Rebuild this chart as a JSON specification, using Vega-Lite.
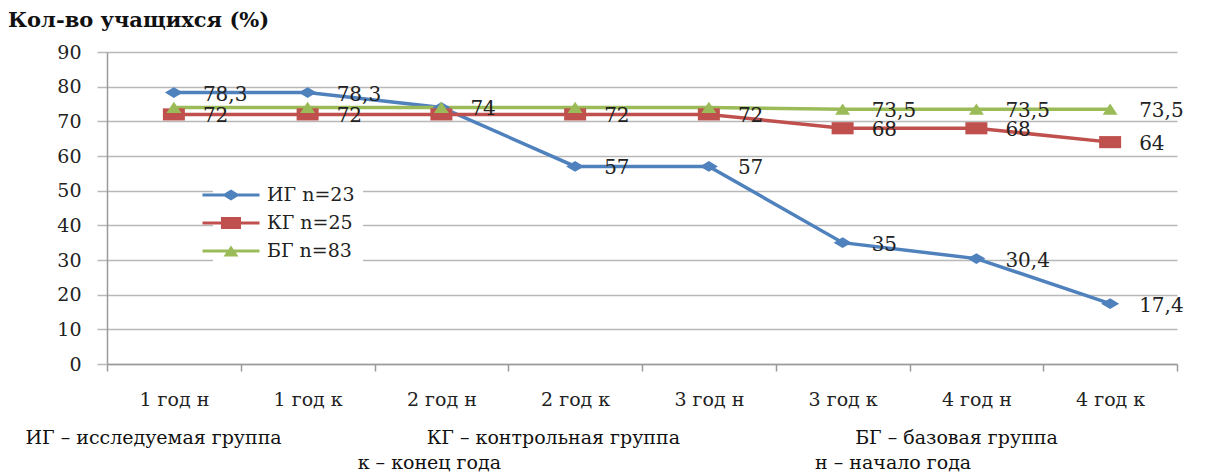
{
  "$schema": "https://vega.github.io/schema/vega-lite/v6.json",
  "width": 1070,
  "height": 312,
  "autosize": {"type": "none"},
  "padding": {"left": 107, "top": 52, "right": 40, "bottom": 108},
  "background": "white",
  "title": {"text": "Кол-во учащихся (%)", "anchor": "start", "frame": "group", "dx": -99, "offset": 12, "font": "DejaVu Serif", "fontSize": 21, "fontWeight": "bold", "color": "#111"},
  "config": {"view": {"stroke": null}, "font": "DejaVu Serif"},
  "data": {"values": [
    {"period": "1 год н", "group": "ИГ n=23", "value": 78.3, "label": "78,3"},
    {"period": "1 год к", "group": "ИГ n=23", "value": 78.3, "label": "78,3"},
    {"period": "2 год н", "group": "ИГ n=23", "value": 74, "label": "74"},
    {"period": "2 год к", "group": "ИГ n=23", "value": 57, "label": "57"},
    {"period": "3 год н", "group": "ИГ n=23", "value": 57, "label": "57"},
    {"period": "3 год к", "group": "ИГ n=23", "value": 35, "label": "35"},
    {"period": "4 год н", "group": "ИГ n=23", "value": 30.4, "label": "30,4"},
    {"period": "4 год к", "group": "ИГ n=23", "value": 17.4, "label": "17,4"},
    {"period": "1 год н", "group": "КГ n=25", "value": 72, "label": "72"},
    {"period": "1 год к", "group": "КГ n=25", "value": 72, "label": "72"},
    {"period": "2 год н", "group": "КГ n=25", "value": 72, "label": ""},
    {"period": "2 год к", "group": "КГ n=25", "value": 72, "label": "72"},
    {"period": "3 год н", "group": "КГ n=25", "value": 72, "label": "72"},
    {"period": "3 год к", "group": "КГ n=25", "value": 68, "label": "68"},
    {"period": "4 год н", "group": "КГ n=25", "value": 68, "label": "68"},
    {"period": "4 год к", "group": "КГ n=25", "value": 64, "label": "64"},
    {"period": "1 год н", "group": "БГ n=83", "value": 74, "label": ""},
    {"period": "1 год к", "group": "БГ n=83", "value": 74, "label": ""},
    {"period": "2 год н", "group": "БГ n=83", "value": 74, "label": ""},
    {"period": "2 год к", "group": "БГ n=83", "value": 74, "label": ""},
    {"period": "3 год н", "group": "БГ n=83", "value": 74, "label": ""},
    {"period": "3 год к", "group": "БГ n=83", "value": 73.5, "label": "73,5"},
    {"period": "4 год н", "group": "БГ n=83", "value": 73.5, "label": "73,5"},
    {"period": "4 год к", "group": "БГ n=83", "value": 73.5, "label": "73,5"}
  ]},
  "encoding": {
    "x": {
      "field": "period", "type": "ordinal",
      "sort": ["1 год н", "1 год к", "2 год н", "2 год к", "3 год н", "3 год к", "4 год н", "4 год к"],
      "scale": {"type": "band", "paddingInner": 0, "paddingOuter": 0},
      "axis": {
        "tickBand": "extent", "labelAngle": 0, "grid": false,
        "domainColor": "#9a9a9a", "domainWidth": 1.5, "tickColor": "#9a9a9a", "tickWidth": 1.5, "tickSize": 7,
        "labelFont": "DejaVu Serif", "labelFontSize": 19, "labelColor": "#222", "labelPadding": 19,
        "title": [
          "ИГ – исследуемая группа\u00a0\u00a0\u00a0\u00a0\u00a0\u00a0\u00a0\u00a0\u00a0\u00a0\u00a0\u00a0\u00a0\u00a0\u00a0\u00a0\u00a0\u00a0\u00a0\u00a0\u00a0\u00a0\u00a0\u00a0КГ – контрольная группа\u00a0\u00a0\u00a0\u00a0\u00a0\u00a0\u00a0\u00a0\u00a0\u00a0\u00a0\u00a0\u00a0\u00a0\u00a0\u00a0\u00a0\u00a0\u00a0\u00a0\u00a0\u00a0\u00a0\u00a0\u00a0\u00a0\u00a0\u00a0\u00a0БГ – базовая группа",
          "\u200b\u00a0\u00a0\u00a0\u00a0\u00a0\u00a0\u00a0\u00a0\u00a0\u00a0\u00a0\u00a0\u00a0\u00a0\u00a0\u00a0\u00a0\u00a0\u00a0\u00a0\u00a0\u00a0\u00a0\u00a0\u00a0\u00a0\u00a0\u00a0\u00a0\u00a0\u00a0\u00a0\u00a0\u00a0\u00a0\u00a0\u00a0\u00a0\u00a0\u00a0\u00a0\u00a0\u00a0\u00a0\u00a0\u00a0\u00a0\u00a0\u00a0\u00a0\u00a0\u00a0\u00a0\u00a0\u00a0к – конец года\u00a0\u00a0\u00a0\u00a0\u00a0\u00a0\u00a0\u00a0\u00a0\u00a0\u00a0\u00a0\u00a0\u00a0\u00a0\u00a0\u00a0\u00a0\u00a0\u00a0\u00a0\u00a0\u00a0\u00a0\u00a0\u00a0\u00a0\u00a0\u00a0\u00a0\u00a0\u00a0\u00a0\u00a0\u00a0\u00a0\u00a0\u00a0\u00a0\u00a0\u00a0\u00a0\u00a0\u00a0\u00a0\u00a0\u00a0\u00a0\u00a0\u00a0\u00a0\u00a0н – начало года"
        ],
        "titleFont": "DejaVu Serif", "titleFontSize": 19, "titleFontWeight": "normal", "titleColor": "#111",
        "titleAlign": "left", "titleBaseline": "top", "titleX": -82, "titleY": 64, "titleLineHeight": 25
      }
    },
    "y": {
      "field": "value", "type": "quantitative",
      "scale": {"domain": [0, 90], "nice": false},
      "axis": {
        "values": [0, 10, 20, 30, 40, 50, 60, 70, 80, 90], "title": null,
        "domainColor": "#9a9a9a", "domainWidth": 1.5, "gridColor": "#b8b8b8", "gridWidth": 1.5,
        "tickColor": "#b8b8b8", "tickWidth": 1.5, "tickSize": 10,
        "labelFont": "DejaVu Serif", "labelFontSize": 19, "labelColor": "#222", "labelPadding": 16
      }
    },
    "color": {
      "field": "group", "type": "nominal",
      "scale": {"domain": ["ИГ n=23", "КГ n=25", "БГ n=83"], "range": ["#4F81BD", "#C0504D", "#9BBB59"]},
      "legend": {
        "title": null, "orient": "none", "legendX": 106, "legendY": 125,
        "fillColor": "white", "padding": 8, "rowPadding": 8,
        "symbolSize": 400, "symbolStrokeWidth": 0, "symbolOpacity": 1,
        "labelFont": "DejaVu Serif", "labelFontSize": 19, "labelColor": "#222", "labelOffset": 26
      }
    }
  },
  "layer": [
    {"mark": {"type": "line", "strokeWidth": 3.5}},
    {
      "transform": [{"filter": "datum.group === 'ИГ n=23'"}],
      "mark": {"type": "point", "filled": true, "opacity": 1, "shape": "M-1,0L0,-0.6L1,0L0,0.6Z", "size": 324}
    },
    {
      "transform": [{"filter": "datum.group === 'КГ n=25'"}],
      "mark": {"type": "point", "filled": true, "opacity": 1, "shape": "M-1,-0.55H1V0.55H-1Z", "size": 484}
    },
    {
      "transform": [{"filter": "datum.group === 'БГ n=83'"}],
      "mark": {"type": "point", "filled": true, "opacity": 1, "shape": "M-1,0.75L0,-0.75L1,0.75Z", "size": 225}
    },
    {
      "mark": {"type": "text", "align": "left", "baseline": "middle", "dx": 29, "dy": 2, "font": "DejaVu Serif", "fontSize": 20, "color": "#222"},
      "encoding": {"text": {"field": "label"}, "color": {"value": "#222"}}
    },
    {
      "transform": [{"filter": "false"}],
      "mark": {"type": "point", "filled": true, "opacity": 1, "size": 400},
      "encoding": {
        "shape": {
          "field": "group", "type": "nominal",
          "scale": {"domain": ["ИГ n=23", "КГ n=25", "БГ n=83"], "range": [
            "M-2.85,-0.15H2.85V0.15H-2.85ZM-0.9,0L0,-0.54L0.9,0L0,0.54Z",
            "M-2.85,-0.15H2.85V0.15H-2.85ZM-1,-0.6H1V0.6H-1Z",
            "M-2.85,-0.15H2.85V0.15H-2.85ZM-0.75,0.55L0,-0.55L0.75,0.55Z"
          ]},
          "legend": {
            "title": null, "orient": "none", "legendX": 106, "legendY": 125,
            "fillColor": "white", "padding": 8, "rowPadding": 8,
            "symbolSize": 400, "symbolStrokeWidth": 0, "symbolOpacity": 1,
            "labelFont": "DejaVu Serif", "labelFontSize": 19, "labelColor": "#222", "labelOffset": 26
          }
        }
      }
    }
  ]
}
